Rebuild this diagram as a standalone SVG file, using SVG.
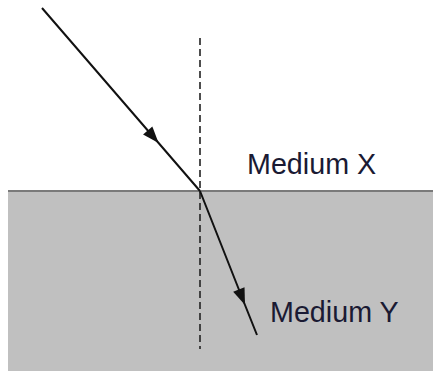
<svg xmlns="http://www.w3.org/2000/svg" width="433" height="371" viewBox="0 0 433 371">
<style>
.ray{fill:none;stroke:#111;stroke-width:2;marker-mid:url(#ah)}
.normal{stroke:#222;stroke-width:1.6;stroke-dasharray:7 4;fill:none}
.lbl{font-family:"Liberation Sans",Arial,sans-serif;font-size:28.7px;fill:#1a1a33}
</style>
<defs>
<marker id="ah" markerUnits="userSpaceOnUse" markerWidth="20" markerHeight="20" refX="0" refY="0" viewBox="-16 -8 18 16" orient="auto" overflow="visible">
<path d="M0,0 L-15,-5.5 L-15,5.5 Z" fill="#111"/>
</marker>
</defs>
<rect width="433" height="371" fill="#fff"/>
<g id="mediumY">
<rect x="8" y="191" width="425" height="180" fill="#c0c0c0"/>
<line x1="8" y1="191" x2="433" y2="191" stroke="#7a7a7a" stroke-width="2"/>
<text class="lbl" x="270" y="322">Medium Y</text>
</g>
<g id="mediumX">
<text class="lbl" x="247" y="174">Medium X</text>
</g>
<g id="connectors">
<line class="normal" x1="200" y1="38" x2="200" y2="349"/>
<polyline class="ray" points="42,8 158.6,143 200,191"/>
<polyline class="ray" points="200,191 245,305 257,335"/>
</g>
</svg>
